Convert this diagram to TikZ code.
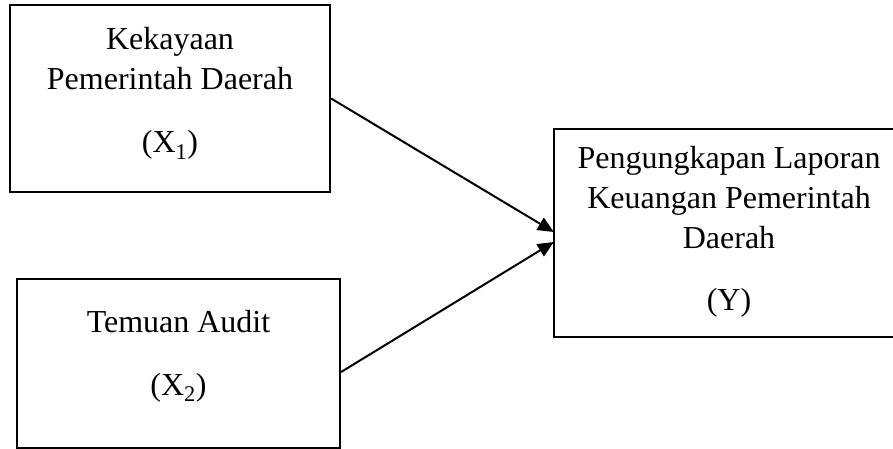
\documentclass[tikz,border=0pt]{standalone}
\usepackage{fontspec}
\setmainfont{Liberation Serif}
\usetikzlibrary{arrows.meta}
\begin{document}
\begin{tikzpicture}[x=1pt,y=-1pt,
  box/.style={draw,line width=2.2pt,rectangle,inner sep=0pt},
  openbox/.style={rectangle,inner sep=0pt},
  edge/.style={line width=2.2pt},
  txt/.style={anchor=base,inner sep=0pt,font=\fontsize{32}{40}\selectfont},
  arr/.style={line width=2pt,-{Triangle[length=16pt,width=14pt]}}]
\clip (0,0) rectangle (893,449);
\node[box,minimum width=320pt,minimum height=187pt] (b1) at (170,98.5) {};
\node[box,minimum width=323pt,minimum height=169pt] (b2) at (178.5,363.5) {};
\node[openbox,minimum width=446pt,minimum height=208pt] (by) at (777,233) {};
\draw[edge] (by.north east) -- (by.north west) -- (by.south west) -- (by.south east);
\node[txt] (t1a) at (170,50) {Kekayaan};
\node[txt] (t1b) at (170,90) {Pemerintah Daerah};
\node[txt] (t1c) at (170,153) {(X\textsubscript{1})};
\node[txt] (t2a) at (178.5,332) {Temuan Audit};
\node[txt] (t2b) at (178.5,395) {(X\textsubscript{2})};
\node[txt] (tya) at (729,168) {Pengungkapan Laporan};
\node[txt] (tyb) at (729,208) {Keuangan Pemerintah};
\node[txt] (tyc) at (729,248) {Daerah};
\node[txt] (tyd) at (729,310) {(Y)};
\draw[arr] (b1.east) -- ([yshift=1pt]by.west);
\draw[arr] ([yshift=-8.5pt]b2.east) -- ([yshift=-9pt]by.west);
\end{tikzpicture}
\end{document}
